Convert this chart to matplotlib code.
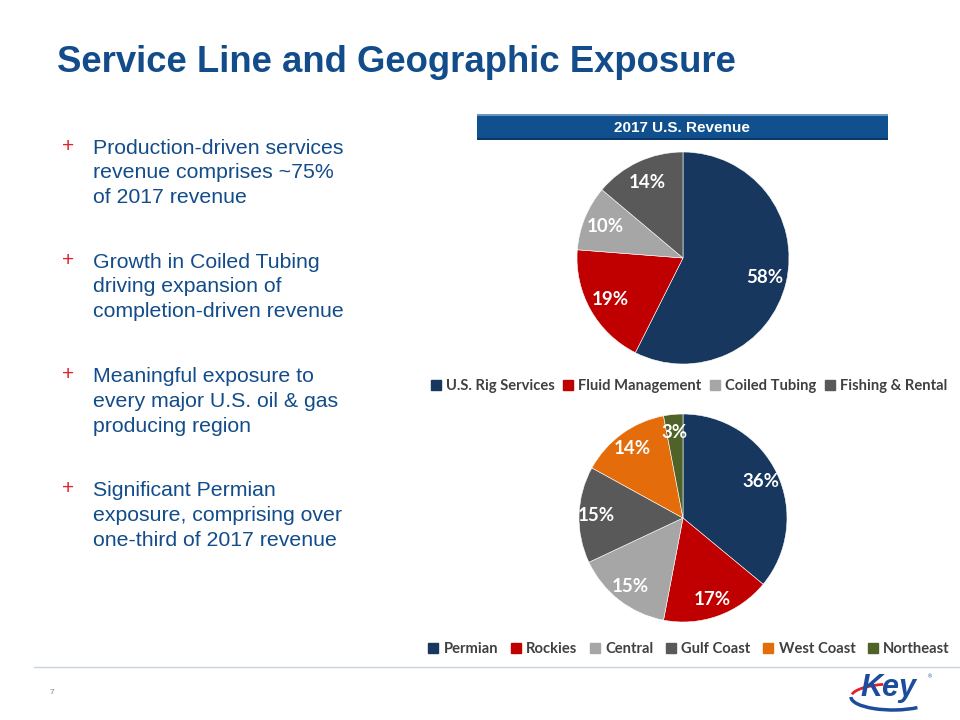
import numpy as np
import matplotlib.pyplot as plt
from matplotlib.patches import Rectangle, Arc
import matplotlib.lines as mlines

W, H = 960, 720

# data
service_lines = ["U.S. Rig Services", "Fluid Management", "Coiled Tubing", "Fishing & Rental"]
service_share = [58, 19, 10, 14]
service_colors = ["#17375E", "#C00000", "#A6A6A6", "#595959"]

regions = ["Permian", "Rockies", "Central", "Gulf Coast", "West Coast", "Northeast"]
region_share = [36, 17, 15, 15, 14, 3]
region_colors = ["#17375E", "#C00000", "#A6A6A6", "#595959", "#E46C0A", "#4F6228"]

bullets = [
    ["Production-driven services", "revenue comprises ~75%", "of 2017 revenue"],
    ["Growth in Coiled Tubing", "driving expansion of", "completion-driven revenue"],
    ["Meaningful exposure to", "every major U.S. oil & gas", "producing region"],
    ["Significant Permian", "exposure, comprising over", "one-third of 2017 revenue"],
]
bullet_tops = [148, 262, 377, 491]

BLUE = "#124C8A"


def fx(x):
    return x / W


def fy(y):
    return 1 - y / H


fig = plt.figure(figsize=(9.6, 7.2), dpi=100)

# title
fig.text(fx(57), fy(62), "Service Line and Geographic Exposure", family="Liberation Sans",
         fontsize=26.3, fontweight="bold", color=BLUE, va="center", ha="left")

# bullet text
for top, lines in zip(bullet_tops, bullets):
    fig.text(fx(62), fy(top - 2), "+", family="Liberation Sans", fontsize=15,
             color="#E0232B", va="center", ha="left")
    for i, line in enumerate(lines):
        fig.text(fx(93), fy(top + i * 24.7), line, family="Liberation Sans", fontsize=15.3,
                 color=BLUE, va="center", ha="left")

# header bar
fig.patches.append(Rectangle((fx(477), fy(140)), fx(411), 26 / H, transform=fig.transFigure,
                             facecolor="#10508F", edgecolor="none"))
fig.patches.append(Rectangle((fx(477), fy(116)), fx(411), 2 / H, transform=fig.transFigure,
                             facecolor="#6C94C2", edgecolor="none"))
fig.patches.append(Rectangle((fx(477), fy(140)), fx(411), 2 / H, transform=fig.transFigure,
                             facecolor="#0A3766", edgecolor="none"))
fig.text(fx(682), fy(128), "2017 U.S. Revenue", family="Liberation Sans", fontsize=11,
         fontweight="bold", color="white", va="center", ha="center")


def draw_pie(cx, cy, r, values, colors, names, label_r, legend_y, colspace):
    ax = fig.add_axes([fx(cx - r), fy(cy + r), 2 * r / W, 2 * r / H])
    ax.pie(values, colors=colors, startangle=90, counterclock=False,
           radius=1, wedgeprops=dict(linewidth=0.4, edgecolor="white"))
    total = sum(values)
    ang = 90.0
    for v in values:
        mid = np.deg2rad(ang - v / total * 180)
        ax.text(label_r * np.cos(mid), label_r * np.sin(mid), f"{v}%", family="Lato",
                fontsize=13.5, fontweight="bold", color="white", ha="center", va="center")
        ang -= v / total * 360
    ax.set_xlim(-1, 1)
    ax.set_ylim(-1, 1)
    ax.set_aspect("equal")
    ax.axis("off")
    handles = [mlines.Line2D([], [], marker="s", linestyle="none", markersize=6.5,
                             markerfacecolor=c, markeredgecolor=c) for c in colors]
    fig.legend(handles, names, loc="center", bbox_to_anchor=(fx(689), fy(legend_y)),
               ncol=len(names), frameon=False, handletextpad=0.35, columnspacing=colspace,
               borderaxespad=0, prop=dict(family="Lato", weight="bold", size=10.6),
               labelcolor="#404040", handlelength=0.7)


draw_pie(683, 258, 106, service_share, service_colors, service_lines, 0.79, 386, 0.55)
draw_pie(683, 518, 104, region_share, region_colors, regions, 0.83, 649, 0.85)

# footer line and page number
fig.add_artist(mlines.Line2D([fx(34), fx(960)], [fy(667), fy(667)], color="#C8D3DC", linewidth=1))
fig.text(fx(50), fy(692), "7", family="Liberation Sans", fontsize=6, color="#808080",
         va="center", ha="left")

# Key logo
fig.add_artist(Arc((fx(893), fy(697)), 84 / W, 26 / H, theta1=180, theta2=330,
                   transform=fig.transFigure, color="#1E4C9C", linewidth=2.5))
fig.add_artist(Arc((fx(893), fy(697)), 84 / W, 26 / H, theta1=120, theta2=175,
                   transform=fig.transFigure, color="#E0232B", linewidth=2))
fig.text(fx(860), fy(688), "Key", family="Liberation Sans", fontsize=22, fontweight="bold",
         style="italic", color="#1E4C9C", va="center", ha="left")
fig.text(fx(928), fy(677), "®", family="Liberation Sans", fontsize=4, color="#1E4C9C",
         va="center", ha="left")

fig.savefig("out.png", dpi=100)
